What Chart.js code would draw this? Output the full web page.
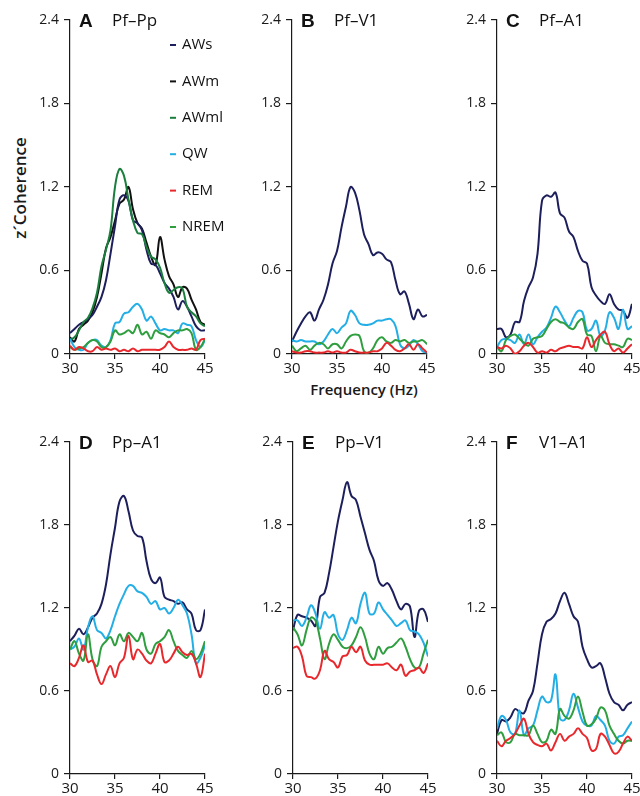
<!DOCTYPE html>
<html>
<head>
<meta charset="utf-8">
<script src="https://cdn.jsdelivr.net/npm/chart.js@4.4.0/dist/chart.umd.min.js"></script>
<style>
  html, body { margin: 0; padding: 0; background: #fff; }
  body { width: 640px; height: 796px; position: relative; overflow: hidden; font-family: "Open Sans", sans-serif; color: #1a1a1a; }
  canvas { position: absolute; }
  .axis-title { position: absolute; font-weight: 600; white-space: nowrap; color: #1a1a1a; }
  #xlab { left: 364px; top: 389px; font-size: 15px; transform: translate(-50%, -50%); }
  #ylab { left: 19px; top: 188px; font-size: 17px; transform: translate(-50%, -50%) rotate(-90deg); }
</style>
</head>
<body>
<div class="axis-title" id="xlab">Frequency (Hz)</div>
<div class="axis-title" id="ylab">z´Coherence</div>
<script>
/* frequency bins (Hz), shared by every panel */
const FREQS = [30, 30.5, 31, 31.5, 32, 32.5, 33, 33.5, 34, 34.5, 35, 35.5, 36, 36.5, 37, 37.5,
               38, 38.5, 39, 39.5, 40, 40.5, 41, 41.5, 42, 42.5, 43, 43.5, 44, 44.5, 45];
const X_TICKS = [30, 35, 40, 45];
const Y_TICKS = [0, 0.6, 1.2, 1.8, 2.4];

/* A  Pf–Pp */
const A_AWS  = [0.15,0.18,0.21,0.23,0.25,0.28,0.34,0.41,0.53,0.72,0.92,1.11,1.14,1.10,0.96,0.94,0.89,0.75,0.65,0.64,0.58,0.51,0.47,0.41,0.32,0.38,0.34,0.27,0.20,0.17,0.17];
const A_AWM  = [0.12,0.09,0.18,0.21,0.24,0.30,0.41,0.58,0.76,0.84,0.96,1.08,1.11,1.20,1.04,0.94,0.90,0.80,0.70,0.64,0.84,0.68,0.56,0.50,0.41,0.48,0.47,0.39,0.32,0.23,0.21];
const A_AWML = [0.10,0.12,0.17,0.23,0.26,0.33,0.44,0.63,0.75,0.89,1.20,1.33,1.28,1.11,0.96,0.87,0.86,0.77,0.70,0.68,0.62,0.51,0.44,0.46,0.48,0.47,0.34,0.30,0.27,0.22,0.20];
const A_QW   = [0.11,0.05,0.03,0.03,0.08,0.10,0.10,0.06,0.05,0.10,0.22,0.23,0.29,0.30,0.34,0.36,0.32,0.24,0.27,0.22,0.17,0.18,0.17,0.17,0.15,0.22,0.21,0.20,0.10,0.05,0.10];
const A_REM  = [0.06,0.03,0.05,0.04,0.02,0.02,0.05,0.03,0.04,0.03,0.04,0.02,0.03,0.02,0.04,0.02,0.03,0.03,0.03,0.03,0.03,0.05,0.09,0.05,0.03,0.03,0.03,0.04,0.03,0.10,0.11];
const A_NREM = [0.05,0.03,0.04,0.05,0.08,0.10,0.09,0.05,0.05,0.09,0.17,0.14,0.15,0.17,0.15,0.21,0.14,0.16,0.11,0.17,0.15,0.14,0.12,0.15,0.17,0.17,0.18,0.15,0.03,0.05,0.11];

/* B  Pf–V1 */
const B_AWS  = [0.09,0.16,0.22,0.27,0.30,0.24,0.32,0.39,0.50,0.65,0.74,0.91,1.06,1.20,1.16,1.03,0.86,0.79,0.71,0.73,0.72,0.68,0.66,0.53,0.43,0.45,0.36,0.25,0.32,0.27,0.28];
const B_QW   = [0.10,0.09,0.10,0.09,0.09,0.09,0.07,0.09,0.14,0.18,0.15,0.19,0.22,0.31,0.28,0.22,0.21,0.21,0.22,0.24,0.24,0.25,0.25,0.20,0.07,0.04,0.06,0.10,0.07,0.02,0.01];
const B_REM  = [0.02,0.01,0.01,0.02,0.02,0.01,0.01,0.01,0.02,0.01,0.02,0.01,0.01,0.03,0.02,0.01,0.01,0.01,0.02,0.02,0.04,0.08,0.06,0.03,0.02,0.04,0.07,0.03,0.07,0.04,0.01];
const B_NREM = [0.06,0.02,0.04,0.06,0.03,0.06,0.08,0.07,0.04,0.07,0.07,0.04,0.09,0.13,0.14,0.13,0.02,0.01,0.04,0.10,0.12,0.09,0.08,0.10,0.09,0.10,0.08,0.09,0.09,0.10,0.07];

/* C  Pf–A1 */
const C_AWS  = [0.18,0.18,0.12,0.14,0.23,0.23,0.38,0.48,0.55,0.72,1.10,1.14,1.13,1.16,1.01,0.98,0.88,0.84,0.74,0.67,0.65,0.48,0.42,0.38,0.36,0.43,0.36,0.32,0.31,0.26,0.36];
const C_QW   = [0.05,0.10,0.11,0.10,0.08,0.14,0.07,0.14,0.07,0.12,0.16,0.19,0.26,0.34,0.30,0.24,0.20,0.26,0.31,0.30,0.17,0.18,0.24,0.13,0.17,0.30,0.26,0.18,0.32,0.18,0.20];
const C_REM  = [0.05,0.04,0.06,0.04,0.00,0.02,0.06,0.08,0.05,0.01,0.02,0.01,0.03,0.02,0.04,0.05,0.06,0.05,0.05,0.04,0.12,0.05,0.10,0.14,0.16,0.07,0.02,0.04,0.01,0.04,0.07];
const C_NREM = [0.05,0.02,0.10,0.13,0.14,0.11,0.08,0.06,0.11,0.12,0.13,0.18,0.23,0.25,0.23,0.22,0.19,0.18,0.23,0.25,0.14,0.13,0.02,0.13,0.08,0.07,0.07,0.06,0.05,0.11,0.10];

/* D  Pp–A1 */
const D_AWS  = [0.96,1.00,1.05,1.01,1.06,1.13,1.16,1.23,1.37,1.59,1.78,1.97,2.01,1.90,1.76,1.72,1.71,1.54,1.41,1.38,1.42,1.28,1.26,1.25,1.23,1.24,1.19,1.16,1.04,1.04,1.19];
const D_QW   = [0.90,0.92,0.98,0.90,1.06,1.14,1.04,1.02,0.98,1.04,1.14,1.23,1.30,1.36,1.36,1.32,1.31,1.28,1.23,1.25,1.19,1.20,1.16,1.20,1.26,1.22,1.16,1.01,0.80,0.84,0.93];
const D_REM  = [0.80,0.78,0.84,0.93,0.81,0.82,0.72,0.65,0.72,0.78,0.70,0.80,0.84,1.00,0.83,0.90,0.87,0.82,0.80,0.87,0.94,0.81,0.82,0.87,0.92,0.88,0.86,0.87,0.80,0.70,0.87];
const D_NREM = [0.90,0.96,0.87,0.82,1.01,0.83,0.78,0.92,0.96,0.99,0.93,1.01,0.96,1.02,0.99,0.96,1.02,0.90,0.87,0.94,0.96,0.99,1.04,0.96,0.89,0.86,0.84,0.89,0.83,0.87,0.96];

/* E  Pp–V1 */
const E_AWS  = [1.04,1.15,1.14,1.13,1.11,1.07,1.28,1.31,1.45,1.64,1.83,1.98,2.11,2.01,1.98,1.86,1.74,1.62,1.54,1.40,1.36,1.38,1.33,1.25,1.19,1.23,1.21,0.99,1.18,1.19,1.10];
const E_QW   = [1.11,1.11,1.07,1.13,1.22,1.16,1.05,1.17,1.13,1.15,1.01,0.97,1.04,1.13,1.09,1.23,1.31,1.16,1.16,1.24,1.19,1.15,1.11,1.07,1.09,1.11,1.04,1.03,1.01,0.95,0.85];
const E_REM  = [0.91,0.92,0.85,0.71,0.70,0.69,0.75,0.89,0.83,0.81,0.77,0.85,0.86,0.92,0.88,0.92,0.82,0.79,0.79,0.79,0.79,0.80,0.77,0.75,0.79,0.71,0.74,0.75,0.77,0.73,0.80];
const E_NREM = [1.06,1.01,0.93,1.04,1.13,1.11,0.98,0.83,0.94,1.01,0.97,0.92,0.91,0.93,0.99,1.06,0.99,0.87,0.83,0.92,0.87,0.91,0.92,0.95,0.98,0.92,0.83,0.77,0.77,0.87,0.97];

/* F  V1–A1 */
const F_AWS  = [0.29,0.39,0.38,0.41,0.47,0.45,0.44,0.53,0.60,0.80,1.01,1.10,1.12,1.16,1.25,1.31,1.23,1.14,1.10,0.92,0.83,0.77,0.78,0.80,0.70,0.58,0.52,0.50,0.46,0.50,0.52];
const F_QW   = [0.33,0.42,0.39,0.30,0.29,0.46,0.28,0.33,0.35,0.46,0.56,0.52,0.53,0.72,0.40,0.39,0.46,0.58,0.48,0.38,0.35,0.35,0.42,0.39,0.35,0.24,0.22,0.27,0.28,0.33,0.38];
const F_REM  = [0.24,0.20,0.24,0.26,0.29,0.35,0.40,0.29,0.23,0.21,0.20,0.22,0.17,0.23,0.29,0.24,0.27,0.29,0.33,0.29,0.26,0.17,0.18,0.29,0.27,0.21,0.15,0.16,0.22,0.27,0.24];
const F_NREM = [0.28,0.30,0.23,0.23,0.29,0.28,0.28,0.28,0.35,0.29,0.23,0.24,0.32,0.29,0.47,0.42,0.40,0.46,0.56,0.45,0.35,0.36,0.40,0.48,0.46,0.35,0.29,0.24,0.22,0.24,0.24];

const COLORS = {
  AWs: '#1d1f5c',
  AWm: '#111111',
  AWml: '#1a7f3c',
  QW: '#23aee6',
  REM: '#e8282c',
  NREM: '#2e9e3e'
};

const PLOT_W = 135;
const Y_AXIS_W = 50;
const X_AXIS_H = 30;
const PAD_TOP = 20;

const panels = [
  { id: 'A', pair: 'Pf–Pp', left: 70,  top: 20,  height: 334, padRight: 36, legend: true,
    series: { AWs: A_AWS, AWm: A_AWM, AWml: A_AWML, QW: A_QW, REM: A_REM, NREM: A_NREM } },
  { id: 'B', pair: 'Pf–V1', left: 292, top: 20,  height: 334, padRight: 10, series: { AWs: B_AWS, QW: B_QW, REM: B_REM, NREM: B_NREM } },
  { id: 'C', pair: 'Pf–A1', left: 497, top: 20,  height: 334, padRight: 10, series: { AWs: C_AWS, QW: C_QW, REM: C_REM, NREM: C_NREM } },
  { id: 'D', pair: 'Pp–A1', left: 70,  top: 442, height: 332, padRight: 10, series: { AWs: D_AWS, QW: D_QW, REM: D_REM, NREM: D_NREM } },
  { id: 'E', pair: 'Pp–V1', left: 293, top: 442, height: 332, padRight: 10, series: { AWs: E_AWS, QW: E_QW, REM: E_REM, NREM: E_NREM } },
  { id: 'F', pair: 'V1–A1', left: 497, top: 442, height: 332, padRight: 10, series: { AWs: F_AWS, QW: F_QW, REM: F_REM, NREM: F_NREM } }
];

// later entries are drawn on top
const DRAW_ORDER = ['REM', 'NREM', 'QW', 'AWml', 'AWs', 'AWm'];

/* panel letter + region pair in the top-left corner */
const panelTitle = {
  id: 'panelTitle',
  afterDraw(chart, args, opts) {
    const { ctx, chartArea } = chart;
    ctx.save();
    ctx.fillStyle = '#111';
    ctx.textBaseline = 'alphabetic';
    ctx.font = 'bold 19px "Liberation Sans", Arial, sans-serif';
    ctx.fillText(opts.letter, chartArea.left + 9, chartArea.top + 7);
    ctx.font = '17px "Open Sans", sans-serif';
    ctx.fillText(opts.pair, chartArea.left + 42, chartArea.top + 6);
    ctx.restore();
  }
};

/* short dash + label list, drawn inside panel A */
const dashLegend = {
  id: 'dashLegend',
  afterDraw(chart, args, opts) {
    if (!opts.show) return;
    const { ctx, chartArea } = chart;
    ctx.save();
    ctx.font = '15px "Open Sans", sans-serif';
    ctx.textBaseline = 'middle';
    opts.items.forEach((name, i) => {
      const y = chartArea.top + 25 + i * 36.4;
      ctx.strokeStyle = COLORS[name];
      ctx.lineWidth = 2;
      ctx.beginPath();
      ctx.moveTo(chartArea.left + 100, y);
      ctx.lineTo(chartArea.left + 106, y);
      ctx.stroke();
      ctx.fillStyle = '#111';
      ctx.fillText(name, chartArea.left + 112, y);
    });
    ctx.restore();
  }
};

function fmtTick(v) {
  return v === 0 ? '0' : v.toFixed(1);
}

panels.forEach(p => {
  const canvas = document.createElement('canvas');
  const w = Y_AXIS_W + PLOT_W + p.padRight;
  const h = PAD_TOP + p.height + X_AXIS_H;
  canvas.width = w;
  canvas.height = h;
  canvas.style.left = (p.left - Y_AXIS_W) + 'px';
  canvas.style.top = (p.top - PAD_TOP) + 'px';
  canvas.style.width = w + 'px';
  canvas.style.height = h + 'px';
  document.body.appendChild(canvas);

  const names = Object.keys(p.series);
  const ordered = DRAW_ORDER.filter(n => names.includes(n));
  const datasets = ordered.map(name => ({
    label: name,
    data: p.series[name].map((v, i) => ({ x: FREQS[i], y: v })),
    borderColor: COLORS[name],
    borderWidth: 2,
    pointRadius: 0,
    tension: 0.4,
    fill: false
  }));

  new Chart(canvas, {
    type: 'line',
    data: { datasets },
    plugins: [panelTitle, dashLegend],
    options: {
      responsive: false,
      animation: false,
      devicePixelRatio: 1,
      layout: { padding: { top: PAD_TOP, right: p.padRight, left: 0, bottom: 0 } },
      plugins: {
        legend: { display: false },
        tooltip: { enabled: false },
        panelTitle: { letter: p.id, pair: p.pair },
        dashLegend: { show: !!p.legend, items: names }
      },
      scales: {
        x: {
          type: 'linear',
          min: 30,
          max: 45,
          afterFit: s => { s.height = X_AXIS_H; },
          afterBuildTicks: s => { s.ticks = X_TICKS.map(v => ({ value: v })); },
          ticks: { color: '#1a1a1a', font: { family: 'Open Sans', size: 15 }, padding: 1, maxRotation: 0, autoSkip: false },
          grid: { drawOnChartArea: false, drawTicks: true, tickLength: 5, color: '#1a1a1a', lineWidth: 1.2 },
          border: { display: true, color: '#1a1a1a', width: 1.2 }
        },
        y: {
          min: 0,
          max: 2.4,
          afterFit: s => { s.width = Y_AXIS_W; },
          afterBuildTicks: s => { s.ticks = Y_TICKS.map(v => ({ value: v })); },
          ticks: { color: '#1a1a1a', font: { family: 'Open Sans', size: 14 }, padding: 5, callback: fmtTick },
          grid: { drawOnChartArea: false, drawTicks: true, tickLength: 6, color: '#1a1a1a', lineWidth: 1.2 },
          border: { display: true, color: '#1a1a1a', width: 1.2 }
        }
      }
    }
  });
});
</script>
</body>
</html>
